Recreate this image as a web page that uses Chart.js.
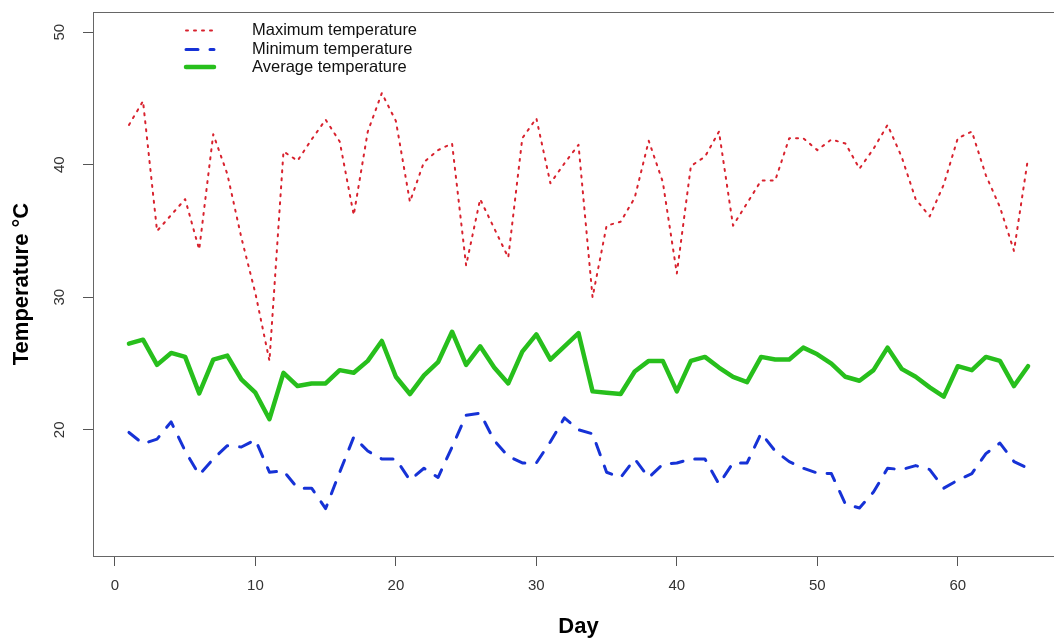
<!DOCTYPE html>
<html>
<head>
<meta charset="utf-8">
<script src="https://cdn.jsdelivr.net/npm/chart.js@4"></script>
<style>
  html, body { margin: 0; padding: 0; background: #fff; overflow: hidden; }
  #wrap { width: 1070px; height: 641px; }
</style>
</head>
<body>
<div id="wrap"><canvas id="tempChart" width="1070" height="641"></canvas></div>
<script>
// day number, 1..65
var days = [1,2,3,4,5,6,7,8,9,10,11,12,13,14,15,16,17,18,19,20,21,22,23,24,25,26,27,28,29,30,31,32,33,34,35,36,37,38,39,40,41,42,43,44,45,46,47,48,49,50,51,52,53,54,55,56,57,58,59,60,61,62,63,64,65];

var maxTemp = [43.0,44.8,35.0,36.2,37.4,33.6,42.3,39.3,34.5,30.3,25.2,41.0,40.3,41.9,43.4,41.75,36.2,42.5,45.4,43.3,
  37.2,40.2,41.1,41.6,32.4,37.4,35.2,33.0,42.0,43.5,38.6,40.1,41.5,30.0,35.4,35.7,37.5,41.8,38.7,31.8,
  39.9,40.6,42.5,35.4,37.1,38.8,38.8,42.0,42.0,41.1,41.9,41.6,39.7,41.2,43.0,40.6,37.4,36.1,38.5,42.0,
  42.5,39.2,36.8,33.5,40.5];

var minTemp = [19.8,18.95,19.3,20.6,18.4,16.6,17.8,18.8,18.7,19.25,16.8,16.9,15.6,15.6,14.06,16.8,19.45,18.4,17.8,17.8,
  16.2,17.1,16.4,18.7,21.1,21.25,19.2,18.0,17.5,17.5,19.1,20.9,20.0,19.7,16.8,16.4,17.8,16.4,17.4,17.5,
  17.8,17.8,15.9,17.5,17.5,19.75,18.4,17.6,17.1,16.74,16.7,14.4,14.1,15.3,17.1,17.0,17.3,17.0,15.6,16.2,
  16.7,18.2,19.0,17.6,17.1];

var avgTemp = [26.5,26.8,24.9,25.8,25.5,22.75,25.3,25.6,23.8,22.8,20.8,24.3,23.3,23.5,23.5,24.5,24.3,25.2,26.7,24.0,
  22.7,24.1,25.1,27.4,24.9,26.3,24.7,23.5,25.9,27.2,25.3,26.3,27.3,22.9,22.8,22.7,24.4,25.2,25.2,22.9,
  25.2,25.5,24.7,24.0,23.6,25.5,25.3,25.3,26.2,25.7,25.0,24.0,23.7,24.5,26.2,24.6,24.0,23.2,22.5,24.8,
  24.5,25.5,25.2,23.3,24.8];

var xTicks = [0, 10, 20, 30, 40, 50, 60];
var yTicks = [20, 30, 40, 50];
var seriesNames = ["Maximum temperature", "Minimum temperature", "Average temperature"];

var FONT = "'Liberation Sans', Arial, Helvetica, sans-serif";

function pts(vals) {
  return days.map(function (d, i) { return { x: d, y: vals[i] }; });
}

// R style box, rotated y labels and legend
var rStyle = {
  id: 'rStyle',
  afterDraw: function (chart) {
    var ctx = chart.ctx, a = chart.chartArea, y = chart.scales.y;
    ctx.save();
    ctx.strokeStyle = '#666';
    ctx.lineWidth = 1;
    ctx.strokeRect(a.left + 0.5, a.top + 0.5, a.right - a.left, a.bottom - a.top);

    ctx.fillStyle = '#333';
    ctx.font = '15px ' + FONT;
    ctx.textAlign = 'center';
    ctx.textBaseline = 'middle';
    yTicks.forEach(function (v) {
      ctx.save();
      ctx.translate(60, y.getPixelForValue(v));
      ctx.rotate(-Math.PI / 2);
      ctx.fillText(String(v), 0, 0);
      ctx.restore();
    });

    // legend
    var rows = [30.5, 49.5, 67];
    ctx.font = '16.5px ' + FONT;
    ctx.textAlign = 'left';
    ctx.fillStyle = '#111';
    chart.data.datasets.forEach(function (ds, i) {
      ctx.save();
      ctx.strokeStyle = ds.borderColor;
      ctx.lineWidth = ds.borderWidth;
      ctx.lineCap = ds.borderCapStyle;
      ctx.setLineDash(ds.borderDash || []);
      ctx.beginPath();
      ctx.moveTo(186, rows[i]);
      ctx.lineTo(214, rows[i]);
      ctx.stroke();
      ctx.restore();
      ctx.fillText(ds.label, 252, rows[i]);
    });
    ctx.restore();
  }
};

new Chart(document.getElementById('tempChart'), {
  type: 'line',
  data: {
    datasets: [
      { label: seriesNames[0], data: pts(maxTemp), borderColor: '#d8222e', borderWidth: 2,
        borderDash: [2, 6], borderCapStyle: 'round', borderJoinStyle: 'round' },
      { label: seriesNames[1], data: pts(minTemp), borderColor: '#1632d6', borderWidth: 3,
        borderDash: [12, 12], borderCapStyle: 'round', borderJoinStyle: 'round' },
      { label: seriesNames[2], data: pts(avgTemp), borderColor: '#27bf1c', borderWidth: 4.5,
        borderCapStyle: 'round', borderJoinStyle: 'round' }
    ]
  },
  options: {
    responsive: false,
    animation: false,
    devicePixelRatio: 1,
    layout: { padding: { top: 10, right: 6, left: 0, bottom: 0 } },
    elements: { point: { radius: 0, hoverRadius: 0 }, line: { tension: 0 } },
    plugins: { legend: { display: false }, tooltip: { enabled: false } },
    scales: {
      x: {
        type: 'linear',
        min: -1.56,
        max: 67.56,
        afterBuildTicks: function (s) { s.ticks = xTicks.map(function (v) { return { value: v }; }); },
        afterFit: function (s) { s.height = 85; },
        grid: { drawOnChartArea: false, tickLength: 10, color: '#555', lineWidth: 1 },
        border: { display: false },
        ticks: { color: '#333', font: { size: 15, family: FONT }, padding: 11, maxRotation: 0 },
        title: { display: true, text: 'Day', color: '#000', font: { size: 22, weight: 'bold', family: FONT },
                 padding: { top: 0, bottom: 1 } }
      },
      y: {
        type: 'linear',
        min: 10.48,
        max: 51.52,
        afterBuildTicks: function (s) { s.ticks = yTicks.map(function (v) { return { value: v }; }); },
        afterFit: function (s) { s.width = 93; },
        grid: { drawOnChartArea: false, tickLength: 10, color: '#555', lineWidth: 1 },
        border: { display: false },
        ticks: { color: 'rgba(0,0,0,0)', font: { size: 15, family: FONT } },
        title: { display: true, text: 'Temperature °C', color: '#000', font: { size: 22, weight: 'bold', family: FONT },
                 padding: { top: 9, bottom: 0 } }
      }
    }
  },
  plugins: [rStyle]
});
</script>
</body>
</html>
